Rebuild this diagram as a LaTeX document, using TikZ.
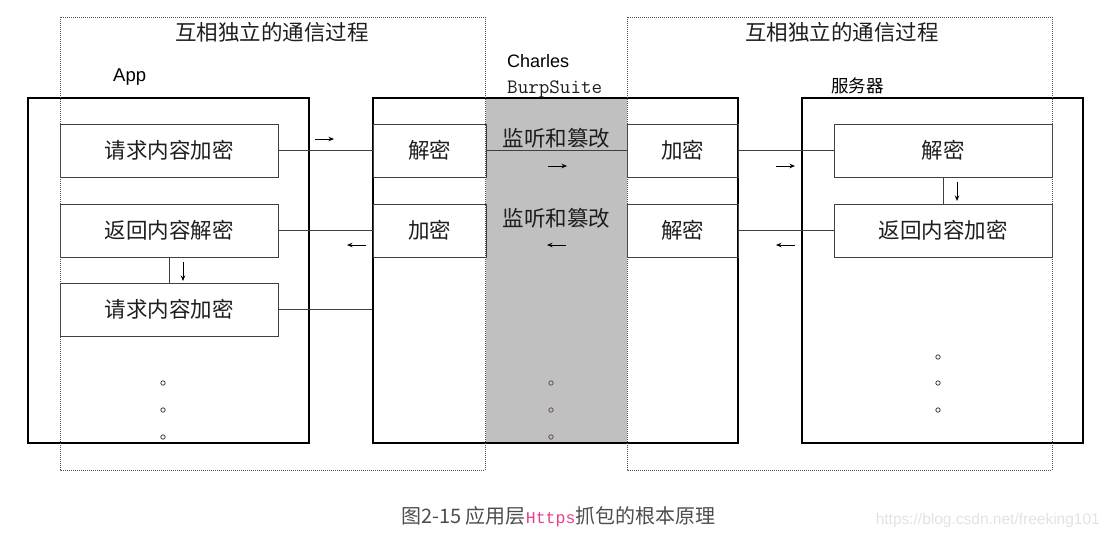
\documentclass[tikz,border=0pt]{standalone}
\usepackage{fontspec}
\usetikzlibrary{arrows.meta}
\newfontfamily\cjk{Noto Sans CJK SC}
\newfontfamily\lat{Liberation Sans}
\newfontfamily\mono{Liberation Mono}
\definecolor{txt}{HTML}{1E1E1E}
\definecolor{inner}{HTML}{404040}
\definecolor{midgray}{HTML}{C0C0C0}
\definecolor{dotc}{HTML}{505050}
\definecolor{capc}{HTML}{4D4D4D}
\definecolor{pinkc}{HTML}{E83E8C}
\definecolor{wmc}{HTML}{E2E2E2}
\definecolor{browndot}{HTML}{6E5046}
\tikzset{
  outerbox/.style={draw=black, line width=1.6pt, inner sep=0pt},
  innerbox/.style={draw=inner, line width=0.9pt, inner sep=0pt, text=txt, font=\cjk\fontsize{21.5}{24}\selectfont},
  conn/.style={draw=inner, line width=0.9pt},
  smallarrow/.style={line width=0.8pt, -{Stealth[length=5.5pt,width=4.5pt]}},
  dotbox/.style={draw=dotc, line width=0.8pt, dash pattern=on 1pt off 1pt},
  ell/.style={draw=#1, line width=0.8pt},
  cjklabel/.style={text=txt, font=\cjk\fontsize{21.5}{24}\selectfont, inner sep=0pt}
}
\begin{document}
\begin{tikzpicture}[x=1pt,y=-1pt]
\useasboundingbox (0,0) rectangle (1107,539);
% gray band
\node[fill=midgray, minimum width=141pt, minimum height=345pt, inner sep=0pt] (band) at (556.5,270.5) {};
% outer boxes
\node[outerbox, minimum width=281pt, minimum height=345pt] (app) at (168.5,270.5) {};
\node[outerbox, minimum width=365pt, minimum height=345pt] (mid) at (555.5,270.5) {};
\node[outerbox, minimum width=281pt, minimum height=345pt] (srv) at (942.5,270.5) {};
% app inner boxes
\node[innerbox, minimum width=218pt, minimum height=53pt] (a1) at (169,150.5) {请求内容加密};
\node[innerbox, minimum width=218pt, minimum height=53pt] (a2) at (169,230.5) {返回内容解密};
\node[innerbox, minimum width=218pt, minimum height=53pt] (a3) at (169,309.5) {请求内容加密};
% middle columns
\node[innerbox, minimum width=113pt, minimum height=53pt] (m1) at (429.5,150.5) {解密};
\node[innerbox, minimum width=113pt, minimum height=53pt] (m2) at (429.5,230.5) {加密};
\node[innerbox, minimum width=111pt, minimum height=53pt] (m3) at (682.5,150.5) {加密};
\node[innerbox, minimum width=111pt, minimum height=53pt] (m4) at (682.5,230.5) {解密};
% server inner boxes
\node[innerbox, minimum width=218pt, minimum height=53pt] (s1) at (943,150.5) {解密};
\node[innerbox, minimum width=218pt, minimum height=53pt] (s2) at (943,230.5) {返回内容加密};
% connectors
\draw[conn] (a1.east) -- (m1.west);
\draw[conn] (m1.east) -- (m3.west);
\draw[conn] (m3.east) -- (s1.west);
\draw[conn] (a2.east) -- (m2.west);
\draw[conn] (m4.east) -- (s2.west);
\draw[conn] (a3.east) -- (a3.east -| mid.west);
\draw[conn] (a2.south) -- (a3.north);
\draw[conn] (s1.south) -- (s2.north);
% small arrows
\draw[smallarrow] (315,139) -- (334,139);
\draw[smallarrow] (366,245) -- (347,245);
\draw[smallarrow] (183,262) -- (183,281);
\draw[smallarrow] (548,166) -- (567,166);
\draw[smallarrow] (566,245) -- (547,245);
\draw[smallarrow] (776,166) -- (795,166);
\draw[smallarrow] (795,245) -- (776,245);
\draw[smallarrow] (957,182) -- (957,201);
% middle labels
\node[cjklabel] (l1) at (556.5,138) {监听和篡改};
\node[cjklabel] (l2) at (556.5,218) {监听和篡改};
% dots
\foreach \yy in {383,410,437} {
  \draw[ell=inner] (163,\yy) circle (2.2pt);
  \draw[ell=browndot] (551,\yy) circle (2.2pt);
}
\foreach \yy in {357,383,410} {
  \draw[ell=inner] (938,\yy) circle (2.2pt);
}
% headings
\node[cjklabel] (h1) at (272,32) {互相独立的通信过程};
\node[cjklabel] (h2) at (842,32) {互相独立的通信过程};
\node[anchor=base west, inner sep=0pt, text=black, font=\lat\fontsize{18.5}{20}\selectfont] (tapp) at (113,81) {App};
\node[anchor=base west, inner sep=0pt, text=black, font=\lat\fontsize{18}{20}\selectfont] (tch) at (507,67) {Charles};
\node[anchor=base west, inner sep=0pt, text=txt, font=\ttfamily\fontsize{20.5}{22}\selectfont] (tbs) at (507,93) {BurpSuite};
\node[anchor=west, inner sep=0pt, text=black, font=\cjk\fontsize{17.5}{20}\selectfont] (tsv) at (831,86) {服务器};
% dotted groups
\draw[dotbox] (60,17) rectangle (485,470);
\draw[dotbox] (627,17) rectangle (1052,470);
% caption
\node[anchor=west, inner sep=0pt, text=capc, font=\cjk\fontsize{20}{22}\selectfont] (cap) at (401,517) {图2-15 应用层{\mono\fontsize{16.5}{18}\selectfont\color{pinkc}Https}抓包的根本原理};
\node[anchor=east, inner sep=0pt, text=wmc, font=\lat\fontsize{15.5}{18}\selectfont] (wm) at (1100,520) {https://blog.csdn.net/freeking101};
\end{tikzpicture}
\end{document}
